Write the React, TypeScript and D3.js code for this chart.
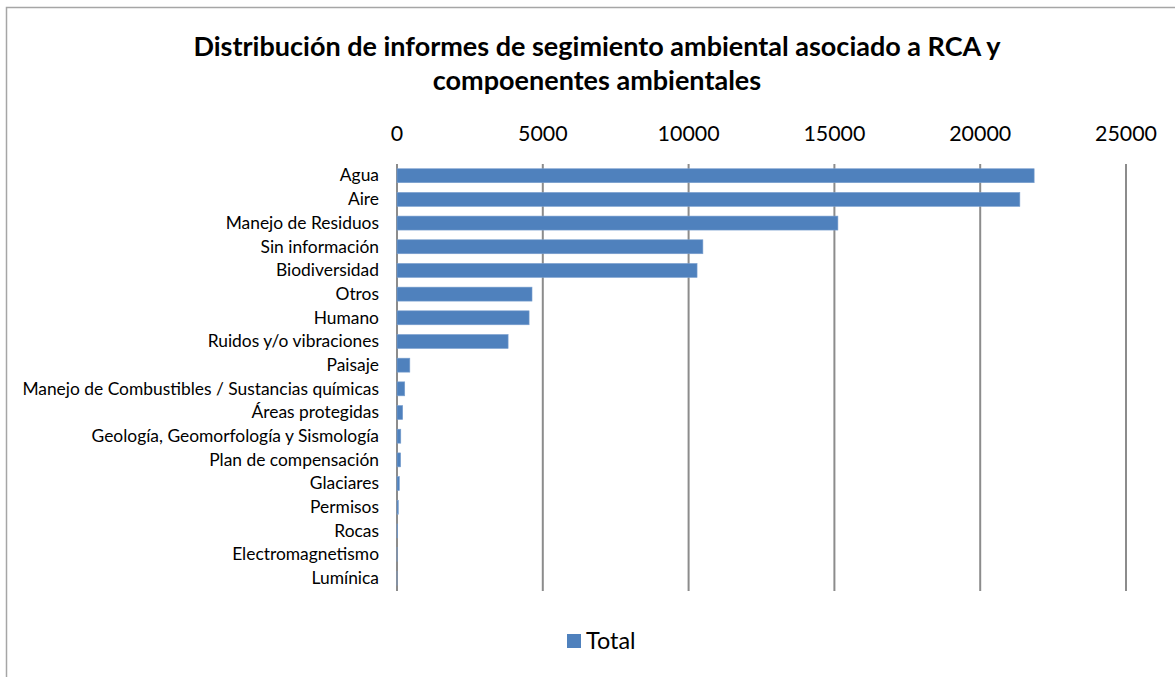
import { useEffect, useRef } from "react";
import * as d3 from "d3";

const categories = [
  "Agua",
  "Aire",
  "Manejo de Residuos",
  "Sin información",
  "Biodiversidad",
  "Otros",
  "Humano",
  "Ruidos y/o vibraciones",
  "Paisaje",
  "Manejo de Combustibles / Sustancias químicas",
  "Áreas protegidas",
  "Geología, Geomorfología y Sismología",
  "Plan de compensación",
  "Glaciares",
  "Permisos",
  "Rocas",
  "Electromagnetismo",
  "Lumínica",
];

const totals = [
  21850, 21360, 15120, 10490, 10290, 4630, 4530, 3810, 440, 265, 195, 130, 125,
  80, 45, 20, 5, 2,
];

const xTicks = [0, 5000, 10000, 15000, 20000, 25000];

const titleLines = [
  "Distribución de informes de segimiento ambiental asociado a RCA y",
  "compoenentes ambientales",
];

const W = 1175;
const H = 677;

export default function App() {
  const svgRef = useRef<SVGSVGElement>(null);

  useEffect(() => {
    if (!svgRef.current) return;
    const svg = d3.select(svgRef.current);
    svg.selectAll("*").remove();

    const font = "Lato, 'Open Sans', sans-serif";
    const left = 397;
    const right = 1126;
    const top = 164;
    const bottom = 590;

    // outer frame
    svg
      .append("rect")
      .attr("x", 6.5)
      .attr("y", 7.5)
      .attr("width", 1300)
      .attr("height", 800)
      .attr("fill", "#fff")
      .attr("stroke", "#a6a6a6")
      .attr("stroke-width", 1.5);

    // title
    svg
      .append("text")
      .attr("text-anchor", "middle")
      .style("font-family", font)
      .style("font-weight", "bold")
      .style("font-size", "27px")
      .style("fill", "#000")
      .selectAll("tspan")
      .data(titleLines)
      .join("tspan")
      .attr("x", 597)
      .attr("y", (_, i) => 56 + i * 34)
      .text((d) => d);

    const x = d3.scaleLinear().domain([0, 25000]).range([left, right]);
    const y = d3
      .scaleBand()
      .domain(categories)
      .range([top, bottom])
      .paddingInner(0.41)
      .paddingOuter(0.2);

    // grid
    svg
      .append("g")
      .selectAll("line")
      .data(xTicks)
      .join("line")
      .attr("x1", (d) => x(d))
      .attr("x2", (d) => x(d))
      .attr("y1", top)
      .attr("y2", bottom + 1)
      .attr("stroke", "#8c8c8c")
      .attr("stroke-width", 2);

    // top tick labels
    svg
      .append("g")
      .selectAll("text")
      .data(xTicks)
      .join("text")
      .attr("x", (d) => x(d))
      .attr("y", 141)
      .attr("text-anchor", "middle")
      .style("font-family", font)
      .style("font-size", "21.4px")
      .style("fill", "#000")
      .text((d) => String(d));

    // bars
    svg
      .append("g")
      .selectAll("rect")
      .data(totals)
      .join("rect")
      .attr("x", x(0))
      .attr("y", (_, i) => y(categories[i])!)
      .attr("width", (d) => x(d) - x(0))
      .attr("height", y.bandwidth())
      .attr("fill", "#4f81bd")
      .attr("stroke", "#7ba0cf")
      .attr("stroke-width", 0.6);

    // category labels
    svg
      .append("g")
      .selectAll("text")
      .data(categories)
      .join("text")
      .attr("x", left - 18)
      .attr("y", (d) => y(d)! + y.bandwidth() / 2)
      .attr("dy", "0.33em")
      .attr("text-anchor", "end")
      .style("font-family", font)
      .style("font-size", "17.4px")
      .style("fill", "#000")
      .text((d) => d);

    // legend
    const legend = svg.append("g");
    legend
      .append("rect")
      .attr("x", 567)
      .attr("y", 634)
      .attr("width", 14)
      .attr("height", 14)
      .attr("fill", "#4f81bd");
    legend
      .append("text")
      .attr("x", 586)
      .attr("y", 649)
      .style("font-family", font)
      .style("font-size", "23.4px")
      .style("fill", "#000")
      .text("Total");
  }, []);

  return (
    <svg
      ref={svgRef}
      width={W}
      height={H}
      style={{ position: "absolute", left: 0, top: 0, background: "#fff" }}
    ></svg>
  );
}
